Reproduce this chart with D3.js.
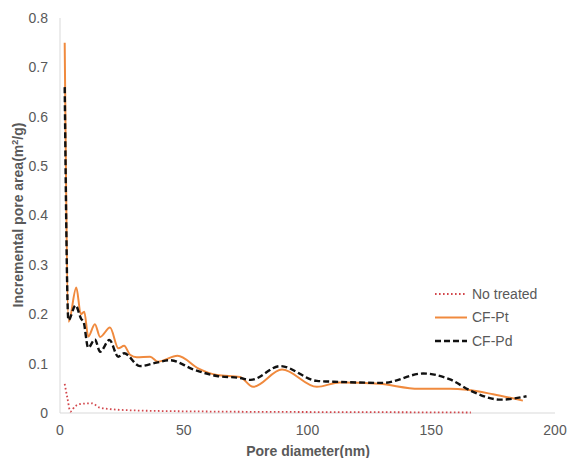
<!DOCTYPE html>
<html>
<head>
<meta charset="utf-8">
<script src="https://cdn.jsdelivr.net/npm/d3@7"></script>
<style>
  body { margin: 0; background: #fff; }
  svg { display: block; font-family: "Liberation Sans", Arial, sans-serif; }
</style>
</head>
<body>
<svg id="chart" width="588" height="458"></svg>
<script>
// values
const xTicks = [0, 50, 100, 150, 200];
const yTicks = [0, 0.1, 0.2, 0.3, 0.4, 0.5, 0.6, 0.7, 0.8];

const noTreatedDiam = [1.9, 3.0, 4.2, 6, 8, 12.8, 16, 20, 31.5, 60, 100, 140, 166];
const noTreatedArea = [0.059, 0.03, 0.003, 0.013, 0.018, 0.0196, 0.011, 0.008, 0.005, 0.003, 0.002, 0.0015, 0.001];

const ptDiam = [1.9, 3.5, 6.6, 8.4, 9.8, 11.4, 14.1, 16.2, 20.2, 23.6, 25.9, 28.3, 31, 36.4, 39.6, 47.5, 56, 63.4, 72.7, 78, 89.7, 103.8, 113, 129, 145, 157.6, 164.4, 175, 187];
const ptArea = [0.75, 0.185, 0.254, 0.2, 0.205, 0.155, 0.18, 0.154, 0.173, 0.131, 0.136, 0.118, 0.113, 0.114, 0.104, 0.116, 0.09, 0.077, 0.073, 0.053, 0.088, 0.053, 0.062, 0.059, 0.049, 0.049, 0.047, 0.038, 0.025];

const pdDiam = [1.9, 3.4, 6.3, 8.6, 9.5, 11.4, 14.1, 16.2, 20, 23.5, 25.9, 32.3, 39, 44.4, 54, 63.4, 72.7, 77, 89, 103.8, 113, 130.5, 146.7, 157.6, 166, 178, 188.5];
const pdArea = [0.66, 0.188, 0.218, 0.19, 0.185, 0.132, 0.149, 0.124, 0.148, 0.114, 0.121, 0.095, 0.102, 0.107, 0.088, 0.075, 0.071, 0.067, 0.095, 0.065, 0.063, 0.061, 0.08, 0.068, 0.045, 0.027, 0.034];

const series = [
  { name: "No treated", diam: noTreatedDiam, area: noTreatedArea, color: "#d2474c", width: 1.8, dash: "1.6,2.4" },
  { name: "CF-Pt", diam: ptDiam, area: ptArea, color: "#f08a3e", width: 2, dash: null },
  { name: "CF-Pd", diam: pdDiam, area: pdArea, color: "#111", width: 2.4, dash: "6,3" }
];

const svg = d3.select("#chart");
const textColor = "#595959";

const x = d3.scaleLinear().domain([0, 200]).range([60, 555]);
const y = d3.scaleLinear().domain([0, 0.8]).range([413, 18]);

// axis lines
svg.append("line")
  .attr("x1", x(0)).attr("x2", x(0))
  .attr("y1", y(0.8)).attr("y2", y(0))
  .attr("stroke", "#d9d9d9").attr("stroke-width", 1);
svg.append("line")
  .attr("x1", x(0)).attr("x2", x(200))
  .attr("y1", y(0)).attr("y2", y(0))
  .attr("stroke", "#d9d9d9").attr("stroke-width", 1);

// tick labels
svg.selectAll(".ytick")
  .data(yTicks)
  .enter()
  .append("text")
  .attr("class", "ytick")
  .attr("x", 48)
  .attr("y", d => y(d))
  .attr("dy", "0.35em")
  .attr("text-anchor", "end")
  .attr("font-size", 14)
  .attr("fill", textColor)
  .text(d => d === 0 ? "0" : d3.format(".1f")(d));

svg.selectAll(".xtick")
  .data(xTicks)
  .enter()
  .append("text")
  .attr("class", "xtick")
  .attr("x", d => x(d))
  .attr("y", 435)
  .attr("text-anchor", "middle")
  .attr("font-size", 14)
  .attr("fill", textColor)
  .text(d => d);

// axis titles
svg.append("text")
  .attr("x", 308)
  .attr("y", 456)
  .attr("text-anchor", "middle")
  .attr("font-size", 14)
  .attr("font-weight", "bold")
  .attr("fill", textColor)
  .text("Pore diameter(nm)");

const yTitle = svg.append("text")
  .attr("transform", "translate(23,215) rotate(-90)")
  .attr("text-anchor", "middle")
  .attr("font-size", 14)
  .attr("font-weight", "bold")
  .attr("fill", textColor);
yTitle.append("tspan").text("Incremental pore area(m");
yTitle.append("tspan").attr("font-size", 9).attr("dy", -5).text("2");
yTitle.append("tspan").attr("dy", 5).text("/g)");

// lines
const line = d3.line()
  .x(d => x(d[0]))
  .y(d => y(d[1]))
  .curve(d3.curveMonotoneX);

series.forEach(s => {
  const pts = s.diam.map((d, i) => [d, s.area[i]]);
  svg.append("path")
    .datum(pts)
    .attr("d", line)
    .attr("fill", "none")
    .attr("stroke", s.color)
    .attr("stroke-width", s.width)
    .attr("stroke-dasharray", s.dash);
});

// legend
const legend = svg.append("g").attr("transform", "translate(435,294)");
series.forEach((s, i) => {
  const g = legend.append("g").attr("transform", `translate(0,${i * 23.5})`);
  g.append("line")
    .attr("x1", 0).attr("x2", 32)
    .attr("y1", 0).attr("y2", 0)
    .attr("stroke", s.color)
    .attr("stroke-width", s.width)
    .attr("stroke-dasharray", s.dash);
  g.append("text")
    .attr("x", 37)
    .attr("y", 0)
    .attr("dy", "0.35em")
    .attr("font-size", 14)
    .attr("fill", textColor)
    .text(s.name);
});
</script>
</body>
</html>
